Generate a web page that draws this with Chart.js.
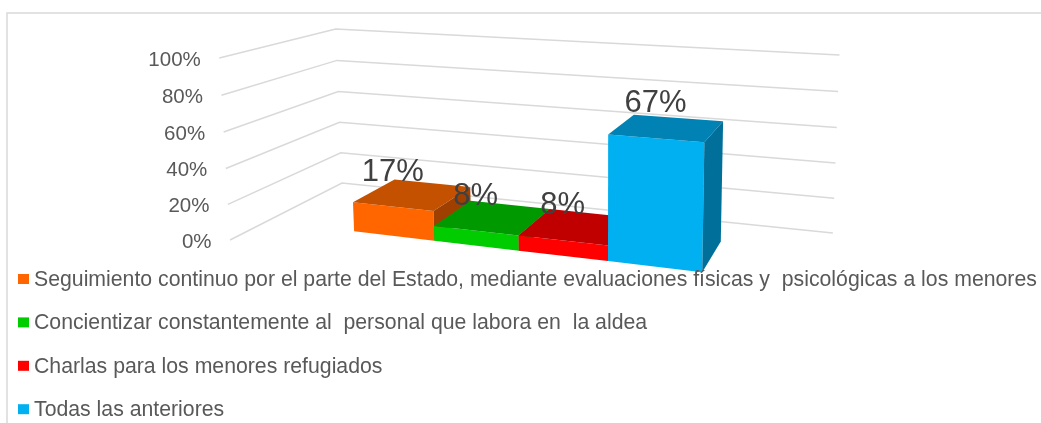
<!DOCTYPE html>
<html>
<head>
<meta charset="utf-8">
<script src="https://cdn.jsdelivr.net/npm/chart.js@4.4.1/dist/chart.umd.min.js"></script>
<style>
  html, body { margin: 0; padding: 0; background: #fff; }
</style>
</head>
<body>
<canvas id="myChart" width="1041" height="423"></canvas>
<script>
const categories = [''];
const seriesNames = [
    'Seguimiento continuo por el parte del Estado, mediante evaluaciones físicas y  psicológicas a los menores',
    'Concientizar constantemente al  personal que labora en  la aldea',
    'Charlas para los menores refugiados',
    'Todas las anteriores'
];
const seriesValues = [0.1667, 0.0833, 0.0833, 0.6667];
const seriesColors = ['#FF6600', '#00CC00', '#FF0000', '#00B0F0'];
const topColors = ['#C45100', '#009A00', '#C00000', '#0083B4'];
const sideColors = ['#A04000', '#007A00', '#9A0000', '#006F9A'];
const tickLabels = ['0%', '20%', '40%', '60%', '80%', '100%'];

// perspective camera (columns: X, Y, Z, origin)
const P = [
    [375.6, -14.28, -148.2, 342],
    [17.85, -154.7, 19.2, 183],
    [-0.1384, -0.0238, -0.1575, 1]
];
const zFront = 0.705, zBack = 0.29;

function project(X, Y, Z) {
    const r = P.map(row => row[0] * X + row[1] * Y + row[2] * Z + row[3]);
    return [r[0] / r[2], r[1] / r[2]];
}

function poly(ctx, pts, fill) {
    ctx.beginPath();
    pts.forEach((p, i) => i ? ctx.lineTo(p[0], p[1]) : ctx.moveTo(p[0], p[1]));
    ctx.closePath();
    ctx.fillStyle = fill;
    ctx.fill();
}

const perspective = {
    id: 'perspective',
    afterDraw(chart) {
        const ctx = chart.ctx;
        const area = chart.chartArea;
        const yScale = chart.scales.y;
        const wx = px => (px - area.left) / area.width;
        const wy = py => (area.bottom - py) / area.height;

        ctx.save();
        // frame
        ctx.strokeStyle = '#d9d9d9';
        ctx.lineWidth = 1.5;
        ctx.beginPath();
        ctx.moveTo(7, 423);
        ctx.lineTo(7, 13);
        ctx.lineTo(1041, 13);
        ctx.stroke();

        // grid on walls + tick labels
        ctx.font = '20.5px "Liberation Sans", Arial, sans-serif';
        ctx.textAlign = 'right';
        ctx.textBaseline = 'middle';
        yScale.ticks.forEach((t, i) => {
            const Y = wy(yScale.getPixelForValue(t.value));
            const a = project(0, Y, 1), b = project(0, Y, 0), c = project(1, Y, 0);
            ctx.strokeStyle = '#d9d9d9';
            ctx.lineWidth = 1.5;
            ctx.beginPath();
            ctx.moveTo(a[0], a[1]);
            ctx.lineTo(b[0], b[1]);
            ctx.lineTo(c[0], c[1]);
            ctx.stroke();
            ctx.fillStyle = '#595959';
            ctx.fillText(tickLabels[i], a[0] - 18.5, a[1] + 2);
        });

        // bars
        chart.data.datasets.forEach((ds, i) => {
            const bar = chart.getDatasetMeta(i).data[0];
            const p = bar.getProps(['x', 'y', 'base', 'width'], true);
            const x0 = wx(p.x - p.width / 2), x1 = wx(p.x + p.width / 2);
            const yt = wy(p.y), yb = wy(p.base);
            poly(ctx, [project(x0, yb, zFront), project(x1, yb, zFront), project(x1, yt, zFront), project(x0, yt, zFront)], seriesColors[i]);
            poly(ctx, [project(x0, yt, zFront), project(x1, yt, zFront), project(x1, yt, zBack), project(x0, yt, zBack)], topColors[i]);
            poly(ctx, [project(x1, yb, zFront), project(x1, yb, zBack), project(x1, yt, zBack), project(x1, yt, zFront)], sideColors[i]);
        });

        // data labels
        ctx.font = '31px "Liberation Sans", Arial, sans-serif';
        ctx.textAlign = 'center';
        ctx.textBaseline = 'alphabetic';
        ctx.fillStyle = '#404040';
        chart.data.datasets.forEach((ds, i) => {
            const bar = chart.getDatasetMeta(i).data[0];
            const p = bar.getProps(['x', 'y'], true);
            const a = project(wx(p.x), wy(p.y), zFront);
            ctx.fillText(Math.round(ds.data[0] * 100) + '%', a[0], a[1] - 26);
        });

        // legend
        ctx.font = '21.25px "Liberation Sans", Arial, sans-serif';
        ctx.textAlign = 'left';
        ctx.textBaseline = 'middle';
        chart.data.datasets.forEach((ds, i) => {
            const yc = 279 + i * 43.4;
            ctx.fillStyle = seriesColors[i];
            ctx.fillRect(18, yc - 5, 11, 10);
            ctx.fillStyle = '#595959';
            ctx.fillText(ds.label, 34, yc + 1);
        });
        ctx.restore();
    }
};

const config = {
    type: 'bar',
    data: {
        labels: categories,
        datasets: seriesNames.map((name, i) => ({
            label: name,
            data: [seriesValues[i]],
            backgroundColor: 'rgba(0,0,0,0)',
            borderWidth: 0
        }))
    },
    options: {
        responsive: false,
        animation: false,
        events: [],
        datasets: {
            bar: { categoryPercentage: 0.636, barPercentage: 1 }
        },
        layout: { padding: { left: 300, right: 200, top: 40, bottom: 160 } },
        scales: {
            x: { display: false },
            y: { display: false, min: 0, max: 1, ticks: { stepSize: 0.2 } }
        },
        plugins: {
            legend: { display: false },
            tooltip: { enabled: false }
        }
    },
    plugins: [perspective]
};

const myChart = new Chart(document.getElementById('myChart'), config);
</script>
</body>
</html>
